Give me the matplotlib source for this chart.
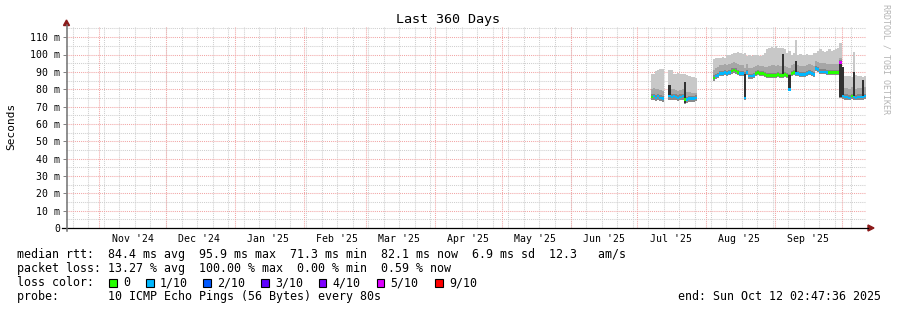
import numpy as np
import pandas as pd
import matplotlib
matplotlib.use("Agg")
import matplotlib.pyplot as plt
import matplotlib.dates as mdates
from matplotlib.patches import Rectangle, Polygon
from matplotlib.lines import Line2D

nan = np.nan
W, H = 897, 310

# ---------------- data (one value per day, starting 2025-07-07) ----------------
first_day = "2025-07-07"

rtt_max = [
    89.0, 89.0, 90.5, 91.0, 91.5, 91.5,
    nan, nan,
    91.0, 91.0, 89.0, 88.5, 89.5, 89.0, 88.5, 89.0, 88.0, 87.5, 87.0, 87.0, 86.5,
    nan, nan, nan, nan, nan, nan, nan,
    97.5, 98.0, 98.0, 98.0, 98.5, 98.0,
    100.0, 100.0, 100.5,
    101.0, 101.0, 101.5, 101.0, 100.5, 101.0,
    99.0,
    99.5, 99.0, 99.5, 100.0, 99.5, 99.0, 99.5,
    101.0, 103.0,
    104.0, 104.5, 104.0, 105.0, 104.0, 104.0, 103.5,
    103.0, 101.0, 102.0, 100.0, 101.0, 108.5,
    100.0, 100.5, 100.0, 100.0, 100.5, 100.0, 100.0, 101.0,
    101.0, 102.0, 103.0, 102.0, 101.5, 102.0, 103.0, 102.0, 102.5, 103.0, 104.0,
    106.5,
    88.0, 87.5, 87.5, 87.5, 87.0, 101.5, 88.0, 87.5, 87.5, 87.0, 87.5,
]

rtt_p9 = [
    80.0, 80.5, 80.0, 80.0, 79.5, 79.0,
    nan, nan,
    80.0, 80.0, 80.0, 79.5, 79.0, 79.5, 80.0, 79.0, 78.5, 78.5, 78.0, 78.0, 78.0,
    nan, nan, nan, nan, nan, nan, nan,
    91.0, 92.0, 93.0, 94.0, 94.0, 94.5, 94.0, 94.5,
    95.0, 95.5, 95.0, 94.5,
    94.0, 94.0, 92.0, 94.5,
    92.5, 92.5, 93.0,
    93.5, 94.0, 93.5, 93.5, 93.0,
    93.0, 93.5, 94.0, 94.0, 93.5, 94.0, 93.5, 93.5,
    93.5, 93.0, 92.0,
    94.0, 94.5,
    94.0, 94.0, 93.5, 93.5, 93.5, 94.0, 94.5, 94.0, 93.5,
    96.0, 95.5,
    95.0, 95.0, 95.0, 94.5, 94.5, 94.5, 94.5, 94.5,
    94.5,
    98.0,
    81.0, 80.5, 80.5, 80.0, 81.0, 80.5, 80.0, 80.5, 80.5, 80.5, 81.0,
]

rtt_p8 = [
    77.0, 77.5, 76.5, 77.5, 76.5, 76.0,
    nan, nan,
    77.5, 77.0, 77.5, 77.0, 76.5, 77.0, 77.5, 75.5, 75.5, 76.0, 76.0, 76.0, 76.5,
    nan, nan, nan, nan, nan, nan, nan,
    88.0, 89.0, 89.5, 90.5, 90.5, 91.0, 90.5, 91.0,
    92.0, 92.5, 92.0, 91.0,
    90.5, 90.5, 90.0, 91.0,
    89.0, 89.0, 89.5,
    90.5, 91.0, 90.5, 90.5, 90.0,
    89.5, 89.5, 89.5, 89.5, 89.5, 90.0, 89.5, 89.5,
    90.0, 89.5, 89.0,
    90.5, 91.0,
    90.5, 90.5, 90.0, 90.0, 90.0, 90.5, 91.0, 90.5, 90.0,
    93.5, 93.0,
    91.5, 91.5, 91.5, 91.0, 91.0, 91.0, 91.0, 91.0,
    91.0,
    97.0,
    77.5, 77.0, 77.0, 76.5, 77.5, 77.0, 76.5, 77.0, 77.0, 77.0, 77.5,
]

rtt_median = [
    75.5, 76.0, 75.0, 76.0, 75.0, 74.5,
    nan, nan,
    76.0, 75.5, 76.0, 75.5, 75.0, 75.5, 76.0, 74.0, 74.0, 74.5, 74.5, 74.5, 75.0,
    nan, nan, nan, nan, nan, nan, nan,
    86.5, 87.5, 88.0, 89.0, 89.0, 89.5, 89.0, 89.5,
    90.5, 91.0, 90.5, 89.5,
    89.0, 89.0, 75.0, 89.5,
    87.5, 87.5, 88.0,
    89.0, 89.5, 89.0, 89.0, 88.5,
    88.0, 88.0, 88.0, 88.0, 88.0, 88.5, 88.0, 88.0,
    88.5, 88.0, 80.0,
    89.0, 89.5,
    89.0, 89.0, 88.5, 88.5, 88.5, 89.0, 89.5, 89.0, 88.5,
    92.0, 91.5,
    90.0, 90.0, 90.0, 89.5, 89.5, 89.5, 89.5, 89.5,
    89.5,
    95.5,
    76.0, 75.5, 75.5, 75.0, 76.0, 75.5, 75.0, 75.5, 75.5, 75.5, 76.0,
]

rtt_min = [
    73.5, 74.0, 73.0, 74.0, 73.0, 72.5,
    nan, nan,
    74.0, 73.5, 74.0, 73.5, 73.0, 73.5, 74.0, 71.5, 72.0, 72.5, 72.5, 72.5, 73.0,
    nan, nan, nan, nan, nan, nan, nan,
    85.0, 86.0, 86.5, 87.5, 87.5, 88.0, 87.5, 88.0,
    89.0, 89.5, 89.0, 88.0,
    87.5, 87.5, 74.0, 88.0,
    86.0, 86.0, 86.5,
    87.5, 88.0, 87.5, 87.5, 87.0,
    86.5, 86.5, 86.5, 86.5, 86.5, 87.0, 86.5, 86.5,
    87.0, 86.5, 79.0,
    87.5, 88.0,
    87.5, 87.5, 87.0, 87.0, 87.0, 87.5, 88.0, 87.5, 87.0,
    90.5, 90.0,
    88.5, 88.5, 88.5, 88.0, 88.0, 88.0, 88.0, 88.0,
    88.0,
    75.0,
    74.5, 74.0, 74.0, 73.5, 74.5, 74.0, 73.5, 74.0, 74.0, 74.0, 74.5,
]

# lost pings out of 10 per day
loss = [
    0, 1, 1, 1, 1, 1,
    nan, nan,
    1, 1, 1, 1, 1, 1, 1, 0, 1, 1, 1, 1, 1,
    nan, nan, nan, nan, nan, nan, nan,
    0, 1, 1, 1, 1, 1, 1, 1,
    0, 0, 0, 0,
    1, 1, 1, 1,
    1, 1, 1,
    0, 0, 0, 0, 0,
    0, 0, 0, 0, 0, 0, 0, 0,
    0, 0, 1,
    0, 0,
    1, 1, 1, 1, 1, 1, 1, 1, 1,
    1, 1,
    1, 1, 1, 1, 0, 0, 0, 0,
    0,
    5,
    1, 1, 1, 1, 0, 1, 1, 1, 1, 1, 1,
]

# days where the central (darkest) smoke band is wide
spike_days = ["2025-07-15", "2025-07-22", "2025-08-18", "2025-09-04", "2025-09-07",
              "2025-09-10", "2025-09-30", "2025-10-01", "2025-10-06", "2025-10-10"]
spike_low = [76.0, 72.0, 75.0, 88.0, 80.0, 89.0, 75.5, 76.0, 74.7, 76.0]
spike_high = [82.5, 84.0, 89.0, 100.0, 88.0, 96.0, 95.0, 93.0, 90.0, 85.3]

loss_levels = [0, 1, 2, 3, 4, 5, 9]
loss_labels = ["0", "1/10", "2/10", "3/10", "4/10", "5/10", "9/10"]
loss_colors = ["#26ff00", "#00b8ff", "#0059ff", "#5e00ff", "#7e00ff", "#dd00ff", "#ff0000"]

y_ticks = [0, 10, 20, 30, 40, 50, 60, 70, 80, 90, 100, 110]
y_tick_labels = ["0", "10 m", "20 m", "30 m", "40 m", "50 m", "60 m", "70 m",
                 "80 m", "90 m", "100 m", "110 m"]
x_tick_dates = ["2024-11-16", "2024-12-16", "2025-01-16", "2025-02-16", "2025-03-16",
                "2025-04-16", "2025-05-16", "2025-06-16", "2025-07-16", "2025-08-16",
                "2025-09-16"]
x_tick_labels = ["Nov '24", "Dec '24", "Jan '25", "Feb '25", "Mar '25", "Apr '25",
                 "May '25", "Jun '25", "Jul '25", "Aug '25", "Sep '25"]

start_time = "2024-10-17 02:47:36"
end_time = "2025-10-12 02:47:36"

legend_rows = [
    "median rtt:  84.4 ms avg  95.9 ms max  71.3 ms min  82.1 ms now  6.9 ms sd  12.3   am/s",
    "packet loss: 13.27 % avg  100.00 % max  0.00 % min  0.59 % now",
]
probe_text = "probe:       10 ICMP Echo Pings (56 Bytes) every 80s"
end_text = "end: Sun Oct 12 02:47:36 2025"

# ---------------- figure ----------------
MONO = "DejaVu Sans Mono"
fig = plt.figure(figsize=(W / 100, H / 100), dpi=100)
fig.patch.set_facecolor("white")

x_left, x_right, y_bot, y_top = 66.2, 866.4, 228.0, 26.5
ax = fig.add_axes([x_left / W, 1 - y_bot / H, (x_right - x_left) / W, (y_bot - y_top) / H])
ax.set_facecolor("white")
t0 = mdates.date2num(pd.Timestamp(start_time))
t1 = mdates.date2num(pd.Timestamp(end_time))
ymax = (y_bot - y_top) / 1.735
ax.set_xlim(t0, t1)
ax.set_ylim(0, ymax)
for s in ax.spines.values():
    s.set_visible(False)

# grid
minor_c, major_c = "#cfcfcf", "#f2a6a6"
dots = (0, (1, 1))
for v in np.arange(5, ymax, 10):
    ax.axhline(v, color=minor_c, lw=0.75, ls=dots, zorder=0)
for wk in pd.date_range(start_time, end_time, freq="W-SUN").normalize():
    ax.axvline(mdates.date2num(wk), color=minor_c, lw=0.75, ls=dots, zorder=0)
for v in y_ticks[1:]:
    ax.axhline(v, color=major_c, lw=0.75, ls=dots, zorder=0.5)
for ms in pd.date_range("2024-11-01", "2025-10-01", freq="MS"):
    ax.axvline(mdates.date2num(ms), color=major_c, lw=0.75, ls=dots, zorder=0.5)

# smoke
days = mdates.date2num(pd.date_range(first_day, periods=len(rtt_median), freq="D"))
xs = np.column_stack([days, days + 1]).ravel()


def rep(a):
    return np.repeat(np.asarray(a, dtype=float), 2)


mx, p9, p8, med, mn = rep(rtt_max), rep(rtt_p9), rep(rtt_p8), rep(rtt_median), rep(rtt_min)
ax.fill_between(xs, p9, mx, color="#c8c8c8", lw=0, zorder=2)
ax.fill_between(xs, p8, p9, color="#a6a6a6", lw=0, zorder=2)
ax.fill_between(xs, med, p8, color="#848484", lw=0, zorder=2)
ax.fill_between(xs, mn, med, color="#8a8a8a", lw=0, zorder=2)

sd = mdates.date2num(pd.to_datetime(spike_days))
ax.bar(sd, np.array(spike_high) - np.array(spike_low), bottom=spike_low, width=1,
       align="edge", color="#323232", lw=0, zorder=3)

# median coloured by loss
lossr = rep(loss)
half = 0.75
for lv, col in zip(loss_levels, loss_colors):
    sel = np.where(lossr == lv, med, np.nan)
    ax.fill_between(xs, sel - half, sel + half, color=col, lw=0, zorder=4)

# ticks
ax.set_yticks(y_ticks)
ax.set_yticklabels(y_tick_labels, fontfamily=MONO, fontsize=7.1)
ax.set_xticks(mdates.date2num(pd.to_datetime(x_tick_dates)))
ax.set_xticklabels(x_tick_labels, fontfamily=MONO, fontsize=7.1)
ax.tick_params(axis="y", length=2.5, width=0.7, color="#808080", pad=2.0)
ax.tick_params(axis="x", length=0, pad=4.5)


def fx(x):
    return x / W


def fy(y):
    return 1 - y / H


# axis lines and arrows
fig.add_artist(Line2D([fx(62), fx(868)], [fy(228), fy(228)], color="black", lw=0.9))
fig.add_artist(Line2D([fx(66.5), fx(66.5)], [fy(231), fy(25)], color="#707070", lw=1.1))
arrow_c = "#8b1a1a"
fig.add_artist(Polygon([[fx(868), fy(225)], [fx(874), fy(228)], [fx(868), fy(231)]],
                       closed=True, color=arrow_c, transform=fig.transFigure))
fig.add_artist(Polygon([[fx(63.5), fy(25.5)], [fx(66.5), fy(20)], [fx(69.5), fy(25.5)]],
                       closed=True, color=arrow_c, transform=fig.transFigure))

# texts
fig.text(fx(448), fy(19), "Last 360 Days", ha="center", va="center", fontfamily=MONO,
         fontsize=9.6)
fig.text(fx(11), fy(126), "Seconds", ha="center", va="center", rotation=90,
         fontfamily=MONO, fontsize=8)
fig.text(fx(886), fy(4), "RRDTOOL / TOBI OETIKER", ha="center", va="top", rotation=-90,
         fontfamily=MONO, fontsize=6, color="#b4b4b4")

fs = 8.4
row_y = [254.3, 268.3, 282.7, 296.7]
for txt, yy in zip(legend_rows, row_y[:2]):
    fig.text(fx(16.5), fy(yy), txt, ha="left", va="center", fontfamily=MONO, fontsize=fs)
fig.text(fx(16.5), fy(row_y[2]), "loss color:", ha="left", va="center", fontfamily=MONO,
         fontsize=fs)
box_x = [109, 146, 203, 261, 318.7, 376.7, 435]
for bx, lab, col in zip(box_x, loss_labels, loss_colors):
    fig.add_artist(Rectangle((fx(bx), fy(row_y[2] + 4)), 7.5 / W, 7.5 / H,
                             facecolor=col, edgecolor="black", lw=0.8,
                             transform=fig.transFigure))
    fig.text(fx(bx + 14), fy(row_y[2]), lab, ha="left", va="center", fontfamily=MONO,
             fontsize=fs)
fig.text(fx(16.5), fy(row_y[3]), probe_text, ha="left", va="center", fontfamily=MONO,
         fontsize=fs)
fig.text(fx(881), fy(row_y[3]), end_text, ha="right", va="center", fontfamily=MONO,
         fontsize=fs)

fig.savefig("out.png", dpi=100, facecolor="white")
